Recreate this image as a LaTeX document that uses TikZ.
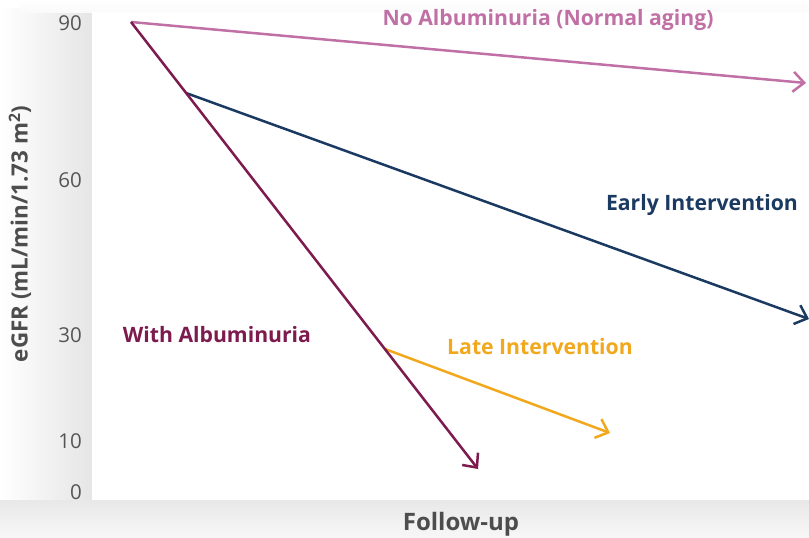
\documentclass[tikz,border=0pt]{standalone}
\usepackage{fontspec}
\setmainfont{Open Sans}
\usetikzlibrary{arrows.meta}
\definecolor{pinkc}{HTML}{C070A5}
\definecolor{maroonc}{HTML}{7D1A4E}
\definecolor{navyc}{HTML}{1B3A62}
\definecolor{orngc}{HTML}{F2A81D}
\definecolor{txtgrey}{HTML}{4D4D4D}
\definecolor{tickgrey}{HTML}{555555}
\begin{document}
\begin{tikzpicture}[x=1pt,y=-1pt,
  trend/.style={line width=2.5pt,-{Straight Barb[length=11pt,width=20pt]}},
  tick/.style={font=\fontsize{20.5}{22}\selectfont,text=tickgrey,anchor=east,inner sep=0pt},
  lbl/.style={font=\fontsize{21.2}{24}\selectfont\bfseries,inner sep=0pt},
  axlbl/.style={font=\fontsize{22.4}{24}\selectfont\bfseries,text=txtgrey,inner sep=0pt}]
\useasboundingbox (0,0) rectangle (809,538);
% shadow
\shade[left color=white, right color=black!10] (0,8) rectangle (92,538);
\shade[top color=black!9, bottom color=black!3] (0,500) rectangle (809,538);
\shade[top color=white, bottom color=black!2] (20,0) rectangle (809,12);
\fill[white] (92,12) rectangle (809,500);
% ticks
\node[tick] (t90) at (82,23) {90};
\node[tick] (t60) at (82,180) {60};
\node[tick] (t30) at (82,335) {30};
\node[tick] (t10) at (82,441) {10};
\node[tick] (t0) at (82,492) {0};
% axis labels
\node[axlbl,rotate=90] (ylab) at (20,234) {eGFR (mL/min/1.73 m\textsuperscript{2})};
\node[axlbl,font=\fontsize{24}{26}\selectfont\bfseries] (xlab) at (461,524) {Follow-up};
% coordinates
\coordinate (s) at (131,22);
\coordinate (pe) at (806,83);
\coordinate (me) at (478,469);
\coordinate (ns) at (186,93);
\coordinate (ne) at (809,319);
\coordinate (os) at (385,349);
\coordinate (oe) at (610,433);
% lines
\draw[trend,pinkc] (s) -- (pe);
\draw[trend,navyc] (ns) -- (ne);
\draw[trend,orngc] (os) -- (oe);
\draw[trend,maroonc] (s) -- (me);
% labels
\node[lbl,text=pinkc] (lp) at (548,20) {No Albuminuria (Normal aging)};
\node[lbl,text=navyc] (ln) at (702,205) {Early Intervention};
\node[lbl,text=maroonc] (lm) at (217,335) {With Albuminuria};
\node[lbl,text=orngc] (lo) at (540,347) {Late Intervention};
\end{tikzpicture}
\end{document}
